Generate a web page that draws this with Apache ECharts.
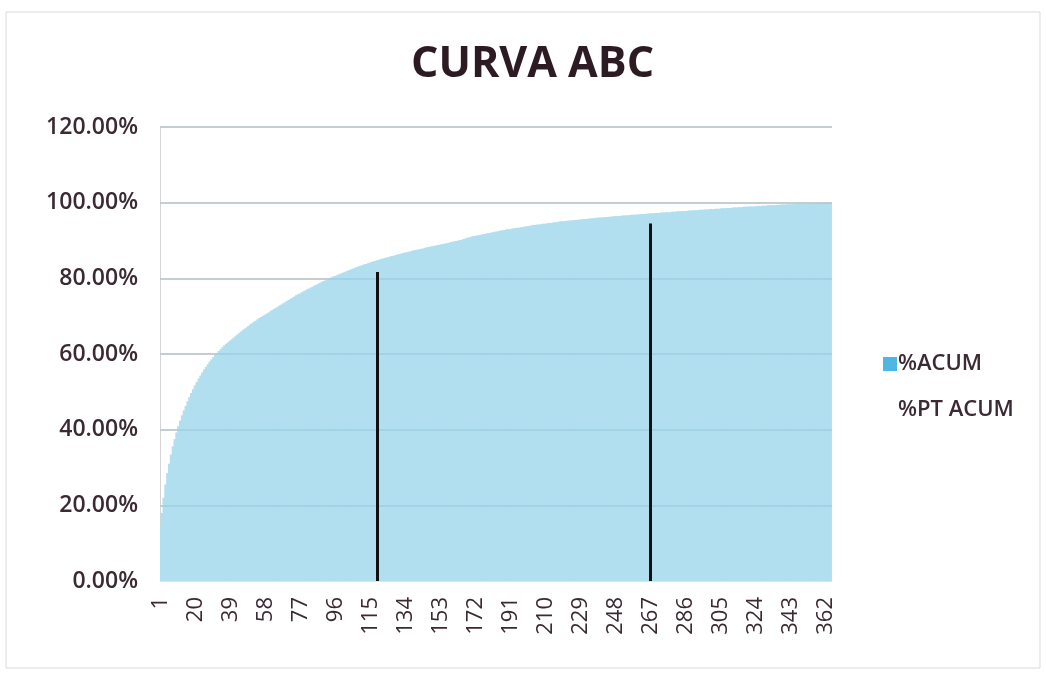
<!DOCTYPE html>
<html>
<head>
<meta charset="utf-8">
<script src="https://cdn.jsdelivr.net/npm/echarts@6/dist/echarts.min.js"></script>
<style>html,body{margin:0;padding:0;background:#fff}#c{width:1046px;height:673px}</style>
</head>
<body>
<div id="c"></div>
<script>
var titleText = 'CURVA ABC';
var seriesNames = ['%ACUM', '%PT ACUM'];
var yTicks = [0, 20, 40, 60, 80, 100, 120];
var acum = [
14.0,18.0,22.0,25.5,28.5,31.0,33.4,35.6,37.5,39.3,
40.9,42.4,43.8,45.1,46.3,47.5,48.6,49.7,50.7,51.7,
52.6,53.5,54.3,55.1,55.9,56.6,57.3,58.0,58.6,59.2,
59.8,60.3,60.8,61.3,61.8,62.3,62.7,63.1,63.5,63.9,
64.3,64.7,65.1,65.5,65.9,66.3,66.7,67.0,67.4,67.8,
68.1,68.5,68.8,69.2,69.5,69.8,70.1,70.4,70.7,71.0,
71.3,71.6,71.9,72.2,72.5,72.8,73.1,73.4,73.7,74.0,
74.3,74.6,74.9,75.2,75.5,75.8,76.0,76.3,76.6,76.8,
77.1,77.3,77.6,77.8,78.1,78.3,78.6,78.8,79.1,79.3,
79.5,79.7,80.0,80.2,80.4,80.6,80.8,81.0,81.2,81.4,
81.6,81.8,82.0,82.2,82.4,82.6,82.8,83.0,83.2,83.3,
83.5,83.7,83.8,84.0,84.2,84.3,84.5,84.6,84.8,84.9,
85.1,85.2,85.4,85.5,85.6,85.8,85.9,86.0,86.2,86.3,
86.4,86.5,86.7,86.8,86.9,87.0,87.1,87.3,87.4,87.5,
87.6,87.7,87.8,87.9,88.1,88.2,88.3,88.4,88.5,88.6,
88.7,88.8,88.9,89.0,89.1,89.2,89.3,89.4,89.6,89.7,
89.8,89.9,90.0,90.1,90.2,90.4,90.5,90.7,90.8,91.0,
91.1,91.2,91.3,91.4,91.5,91.6,91.7,91.8,91.9,92.0,
92.1,92.2,92.3,92.4,92.5,92.6,92.7,92.8,92.9,93.0,
93.0,93.1,93.2,93.3,93.4,93.4,93.5,93.6,93.7,93.7,
93.8,93.9,94.0,94.0,94.1,94.2,94.2,94.3,94.4,94.4,
94.5,94.6,94.6,94.7,94.8,94.8,94.9,95.0,95.0,95.1,
95.1,95.2,95.2,95.3,95.3,95.4,95.4,95.5,95.5,95.6,
95.6,95.7,95.7,95.8,95.8,95.9,95.9,96.0,96.0,96.1,
96.1,96.1,96.2,96.2,96.3,96.3,96.4,96.4,96.4,96.5,
96.5,96.6,96.6,96.6,96.7,96.7,96.8,96.8,96.8,96.9,
96.9,97.0,97.0,97.0,97.1,97.1,97.2,97.2,97.2,97.3,
97.3,97.3,97.4,97.4,97.4,97.5,97.5,97.5,97.6,97.6,
97.6,97.7,97.7,97.7,97.8,97.8,97.8,97.9,97.9,97.9,
98.0,98.0,98.0,98.1,98.1,98.1,98.2,98.2,98.2,98.3,
98.3,98.3,98.4,98.4,98.4,98.5,98.5,98.5,98.6,98.6,
98.6,98.7,98.7,98.7,98.8,98.8,98.8,98.9,98.9,98.9,
99.0,99.0,99.0,99.0,99.1,99.1,99.1,99.2,99.2,99.2,
99.3,99.3,99.3,99.3,99.4,99.4,99.4,99.5,99.5,99.5,
99.5,99.6,99.6,99.6,99.6,99.7,99.7,99.7,99.7,99.8,
99.8,99.8,99.8,99.8,99.9,99.9,99.9,99.9,99.9,99.9,
100.0,100.0,100.0,100.0,100.0
];
var categories = acum.map(function (v, i) { return String(i + 1); });
// vertical cut-off markers (category, height in %)
var cutCategories = ['119', '267'];
var cutHeights = [81.7, 94.5];

var textColor = '#3b2a33';
var barColor = '#b2dfef';
var chart = echarts.init(document.getElementById('c'), null, {renderer: 'canvas'});

var gridMarks = yTicks.slice(1).map(function (t) { return {yAxis: t}; });

var option = {
  animation: false,
  backgroundColor: '#ffffff',
  title: {
    text: titleText, left: 406, top: 38,
    textStyle: {fontFamily: "'Open Sans',sans-serif", fontWeight: 'bold', fontSize: 43, color: '#2d1b24'}
  },
  graphic: [{type: 'rect', shape: {x: 6, y: 12, width: 1034, height: 656}, style: {fill: 'none', stroke: '#d9d9d9', lineWidth: 1}, silent: true, z: -1}],
  legend: {
    orient: 'vertical', left: 878, top: 348, itemGap: 24, itemWidth: 14, itemHeight: 14,
    icon: 'rect',
    data: [{name: seriesNames[0], itemStyle: {color: '#4fb7e3', borderWidth: 0}}, {name: seriesNames[1]}],
    textStyle: {fontFamily: "'Open Sans',sans-serif", fontSize: 22, fontWeight: 600, color: textColor, padding: [0, 0, 0, -4]}
  },
  grid: {left: 160, right: 214, top: 127, bottom: 92},
  xAxis: {
    type: 'category', data: categories,
    axisTick: {show: false},
    axisLine: {lineStyle: {color: '#e3e3e3'}},
    axisLabel: {interval: 18, rotate: 90, fontFamily: "'Open Sans',sans-serif", fontSize: 22, color: textColor, margin: 16}
  },
  yAxis: {
    type: 'value', min: yTicks[0], max: yTicks[yTicks.length - 1], interval: 20,
    axisLine: {show: true, lineStyle: {color: '#d4d4d4'}},
    axisTick: {show: false},
    splitLine: {show: true, lineStyle: {color: '#d9d9d9', width: 2}},
    axisLabel: {formatter: function (v) { return v.toFixed(2) + '%'; }, fontFamily: "'Open Sans',sans-serif", fontSize: 23, fontWeight: 600, color: textColor, margin: 22}
  },
  series: [{
    name: seriesNames[0], type: 'bar', data: acum, barWidth: 3, z: 1,
    itemStyle: {color: barColor},
    markLine: {
      silent: true, symbol: 'none', label: {show: false}, z: 6,
      lineStyle: {color: '#111111', width: 3, type: 'solid'},
      data: [
        [{coord: [cutCategories[0], 0]}, {coord: [cutCategories[0], cutHeights[0]]}],
        [{coord: [cutCategories[1], 0]}, {coord: [cutCategories[1], cutHeights[1]]}]
      ]
    }
  }, {
    name: seriesNames[1], type: 'bar', data: [], z: 4, itemStyle: {color: 'rgba(0,0,0,0)'},
    markLine: {
      silent: true, symbol: 'none', label: {show: false}, z: 4,
      lineStyle: {color: 'rgba(30,110,150,0.1)', width: 2, type: 'solid'},
      data: gridMarks
    }
  }]
};
chart.setOption(option);
</script>
</body>
</html>
